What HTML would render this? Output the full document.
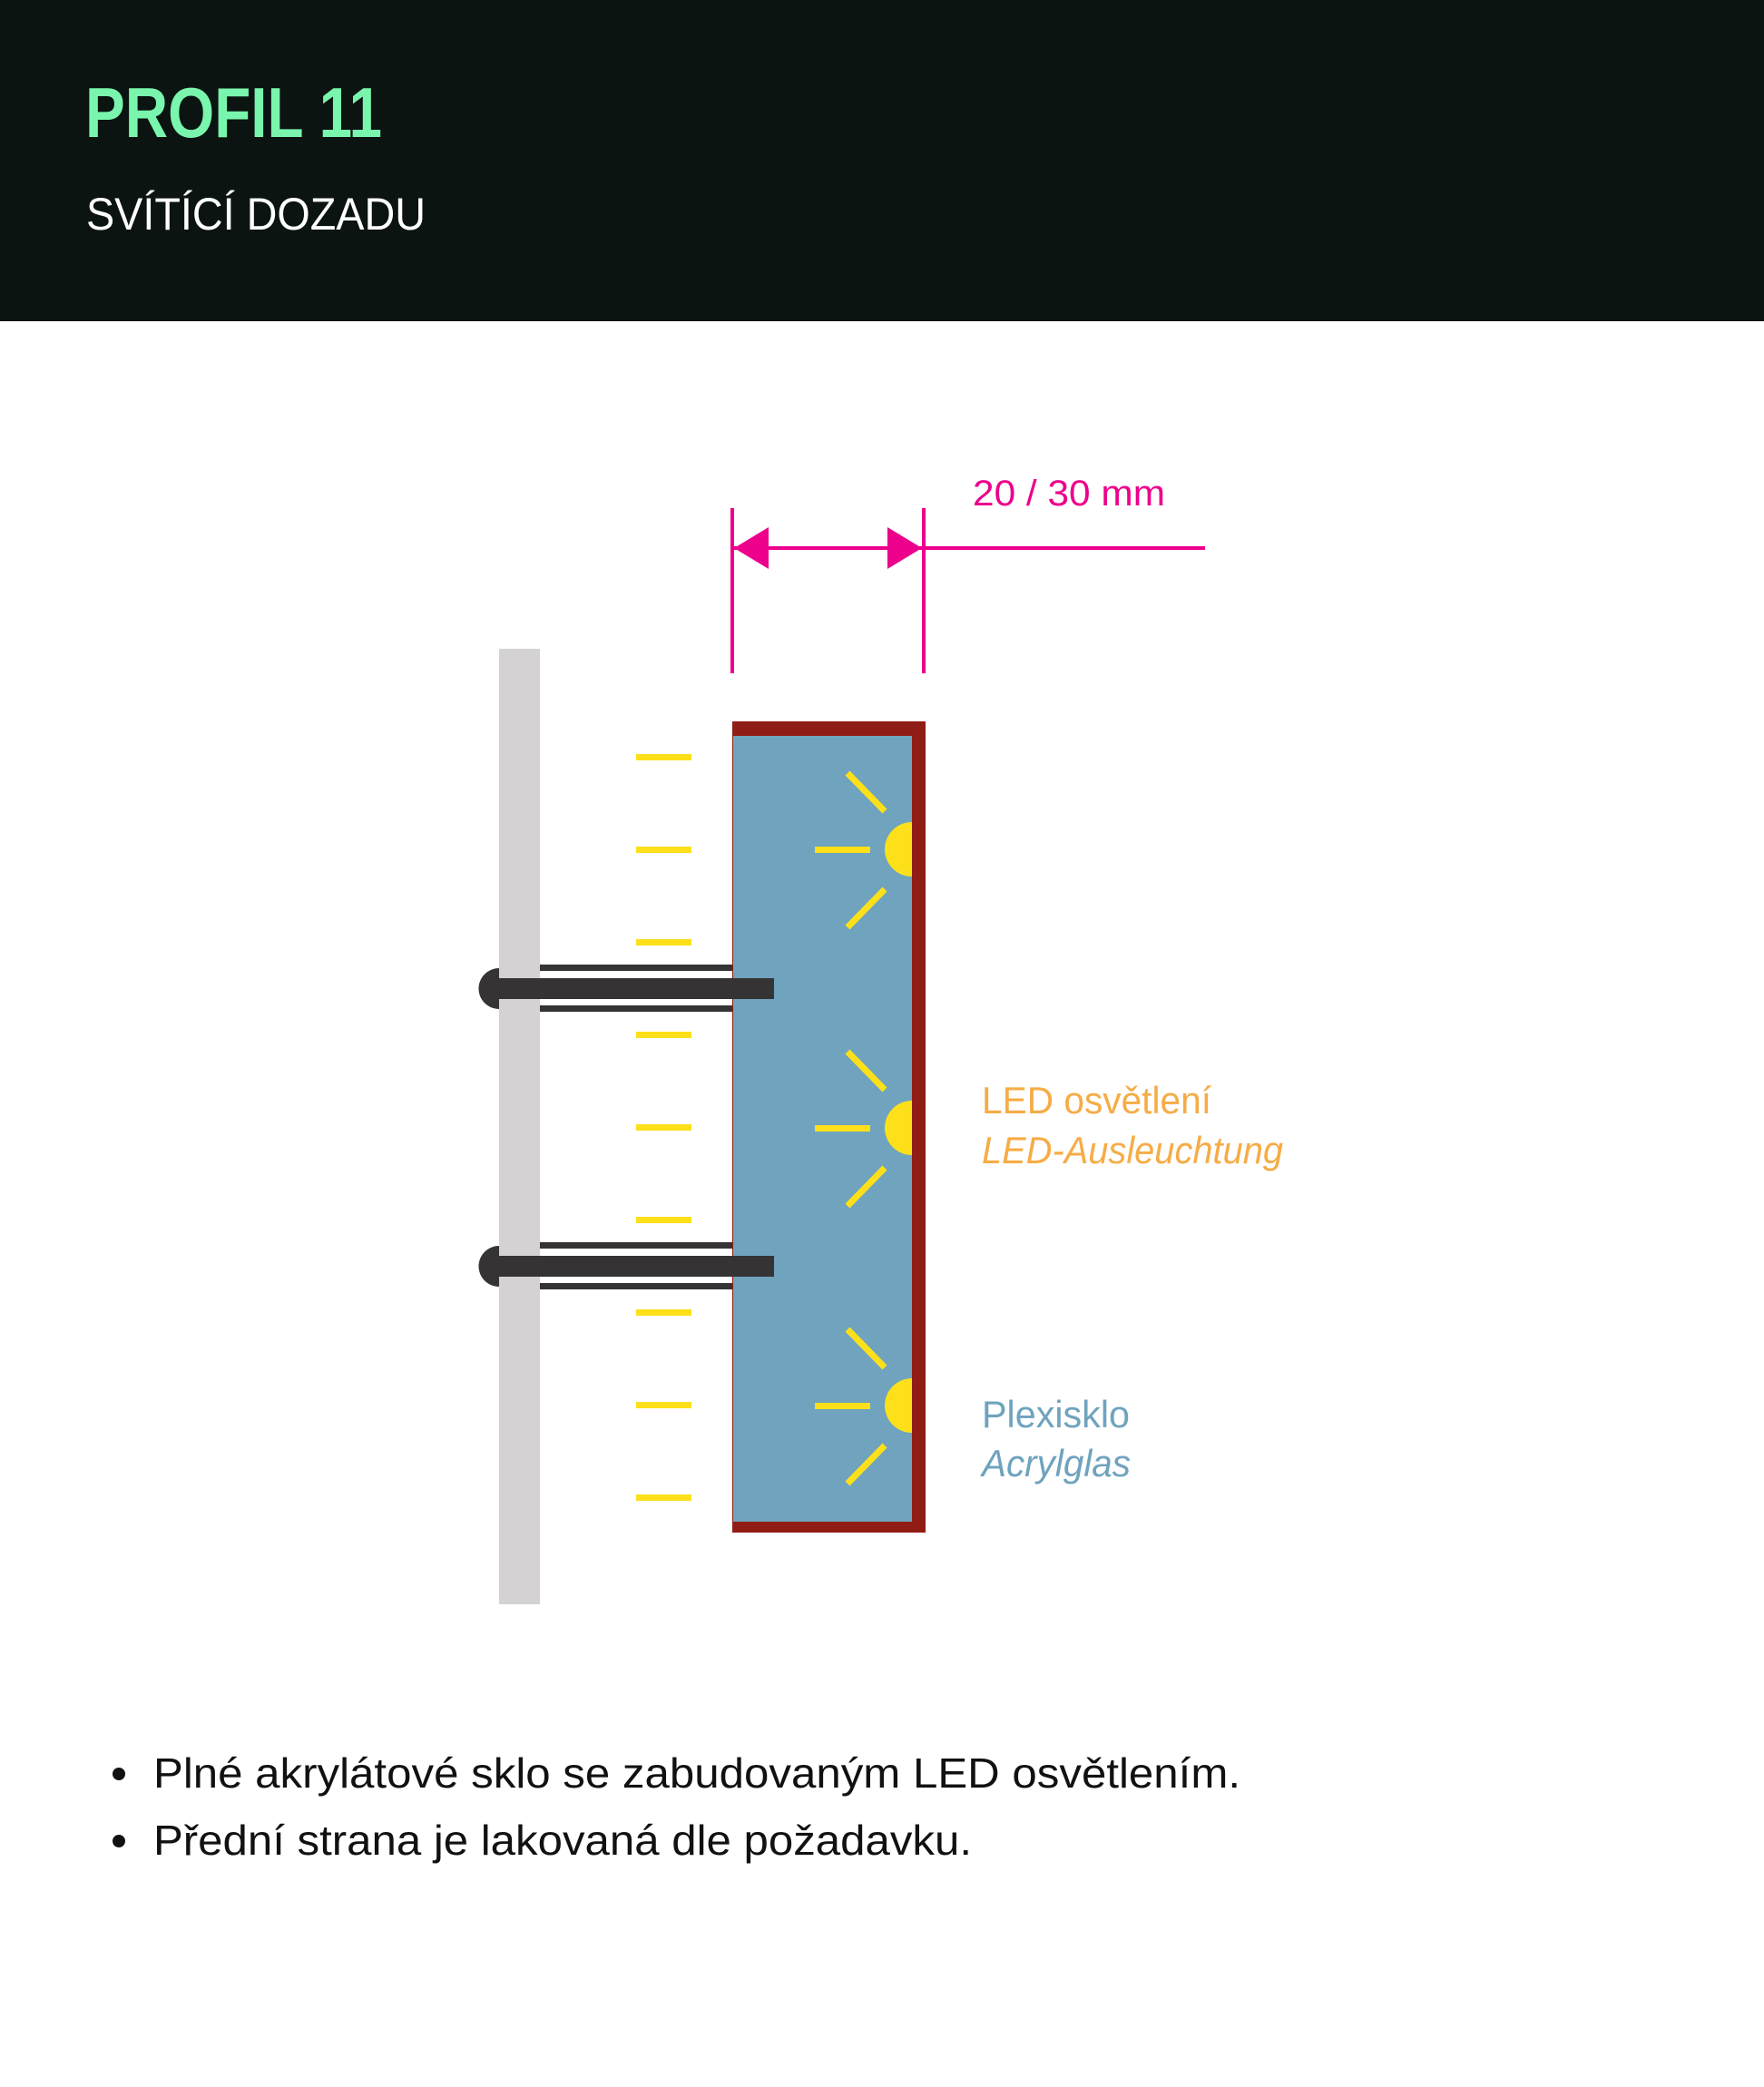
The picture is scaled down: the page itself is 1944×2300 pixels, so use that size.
<!DOCTYPE html>
<html><head><meta charset="utf-8"><style>
html,body{margin:0;padding:0;background:#fff}
body{width:1944px;height:2300px;position:relative;overflow:hidden;font-family:"Liberation Sans",sans-serif}
</style></head><body>
<svg width="1944" height="2300" viewBox="0 0 1944 2300" xmlns="http://www.w3.org/2000/svg" style="position:absolute;left:0;top:0">
<rect x="0" y="0" width="1944" height="354" fill="#0b1411"/>
<text x="94" y="151" font-family="Liberation Sans, sans-serif" font-weight="bold" font-size="78" fill="#7af5ad" textLength="327" lengthAdjust="spacingAndGlyphs">PROFIL 11</text>
<text x="95" y="253" font-family="Liberation Sans, sans-serif" font-size="50" fill="#ffffff" textLength="374" lengthAdjust="spacingAndGlyphs">SVÍTÍCÍ DOZADU</text>

<!-- dimension -->
<rect x="805" y="560" width="4" height="182" fill="#ec008c"/>
<rect x="1016" y="560" width="4" height="182" fill="#ec008c"/>
<rect x="809" y="602" width="519" height="4" fill="#ec008c"/>
<polygon points="809,604 847,581 847,627" fill="#ec008c"/>
<polygon points="1016,604 978,581 978,627" fill="#ec008c"/>
<text x="1072" y="557" font-family="Liberation Sans, sans-serif" font-size="40" fill="#ec008c" textLength="212" lengthAdjust="spacingAndGlyphs">20 / 30 mm</text>

<!-- wall -->
<rect x="550" y="715" width="45" height="1053" fill="#d4d2d3"/>

<!-- yellow dashes -->
<g fill="#fde01a">
<rect x="701" y="831" width="61" height="7"/>
<rect x="701" y="933" width="61" height="7"/>
<rect x="701" y="1035" width="61" height="7"/>
<rect x="701" y="1137" width="61" height="7"/>
<rect x="701" y="1239" width="61" height="7"/>
<rect x="701" y="1341" width="61" height="7"/>
<rect x="701" y="1443" width="61" height="7"/>
<rect x="701" y="1545" width="61" height="7"/>
<rect x="701" y="1647" width="61" height="7"/>
</g>

<!-- box -->
<rect x="807" y="795" width="213" height="894" fill="#901d15"/>
<rect x="808" y="811" width="197" height="866" fill="#6fa3be"/>

<!-- LEDs -->
<g id="led">
<path d="M1005 906 A30 30 0 0 0 1005 966 Z" fill="#fde01a"/>
<rect x="898" y="933" width="61" height="7" fill="#fde01a"/>
<line x1="934" y1="852" x2="975" y2="894" stroke="#fde01a" stroke-width="7"/>
<line x1="975" y1="980" x2="934" y2="1022" stroke="#fde01a" stroke-width="7"/>
</g>
<use href="#led" y="307"/>
<use href="#led" y="613"/>

<!-- bolts -->
<g id="bolt" fill="#363334">
<rect x="595" y="1063" width="212" height="7"/>
<rect x="595" y="1108" width="212" height="7"/>
<rect x="550" y="1078" width="303" height="23"/>
<path d="M550 1067 A22.5 22.5 0 0 0 550 1112 Z"/>
</g>
<use href="#bolt" y="306"/>

<!-- labels -->
<text x="1082" y="1227" font-family="Liberation Sans, sans-serif" font-size="42" fill="#f6ac46" textLength="253" lengthAdjust="spacingAndGlyphs">LED osvětlení</text>
<text x="1082" y="1282" font-family="Liberation Sans, sans-serif" font-style="italic" font-size="42" fill="#f6ac46" textLength="332" lengthAdjust="spacingAndGlyphs">LED-Ausleuchtung</text>
<text x="1082" y="1573" font-family="Liberation Sans, sans-serif" font-size="42" fill="#6fa3be" textLength="163" lengthAdjust="spacingAndGlyphs">Plexisklo</text>
<text x="1082" y="1627" font-family="Liberation Sans, sans-serif" font-style="italic" font-size="42" fill="#6fa3be" textLength="164" lengthAdjust="spacingAndGlyphs">Acrylglas</text>

<!-- bullets -->
<circle cx="131" cy="1955" r="7" fill="#111"/>
<circle cx="131" cy="2029" r="7" fill="#111"/>
<text x="169" y="1970" font-family="Liberation Sans, sans-serif" font-size="46" fill="#111" textLength="1198" lengthAdjust="spacingAndGlyphs">Plné akrylátové sklo se zabudovaným LED osvětlením.</text>
<text x="169" y="2044" font-family="Liberation Sans, sans-serif" font-size="46" fill="#111" textLength="902" lengthAdjust="spacingAndGlyphs">Přední strana je lakovaná dle požadavku.</text>
</svg>
</body></html>
